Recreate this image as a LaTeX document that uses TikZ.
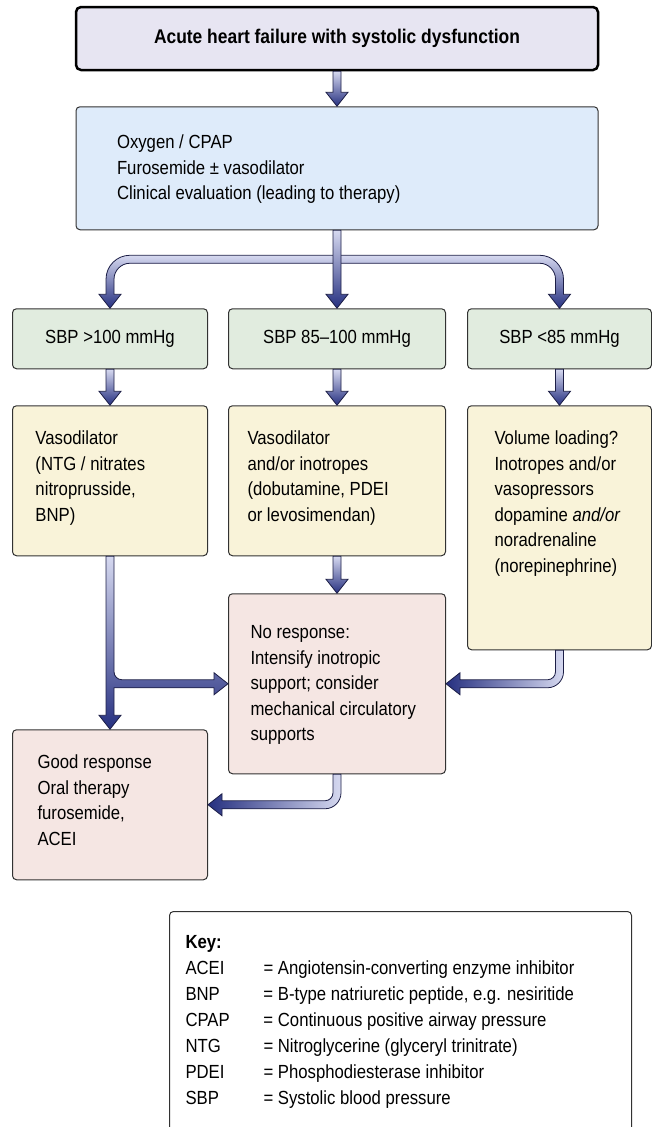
\documentclass[tikz,border=0pt]{standalone}
\usepackage{fontspec}
\setmainfont{Liberation Sans}[FakeStretch=0.88]
\usepackage{tikz}
\usetikzlibrary{positioning, calc}
\definecolor{titlefill}{RGB}{231,229,242}
\definecolor{initfill}{RGB}{222,235,250}
\definecolor{sbpfill}{RGB}{225,236,223}
\definecolor{drugfill}{RGB}{249,243,217}
\definecolor{respfill}{RGB}{245,230,227}
\definecolor{boxline}{RGB}{50,50,50}
\definecolor{arrlight}{RGB}{214,217,240}
\definecolor{arrdark}{RGB}{38,48,128}
\definecolor{arrline}{RGB}{28,30,70}

\newcommand{\bodyfont}{\fontsize{19pt}{25.5pt}\selectfont}
% height, width, left pad, first baseline, text
\newcommand{\boxtext}[5]{\parbox[c][#1][t]{#2}{\raggedright\leftskip=#3\relax\rule{0pt}{#4}#5}}
\newcommand{\keyrow}[2]{\makebox[78pt][l]{#1}= #2}

% fat shaded arrows
\newcommand{\fatdown}[2]{%
  \shade[fatarrow, top color=arrlight, bottom color=arrdark]
    let \p1=#1, \p2=#2 in
    (\x1-4pt,\y1) -- (\x1-4pt,\y2+14pt) -- (\x1-11pt,\y2+14pt) -- (\x1,\y2)
    -- (\x1+11pt,\y2+14pt) -- (\x1+4pt,\y2+14pt) -- (\x1+4pt,\y1) -- cycle;}
\newcommand{\fatdownleft}[2]{%
  \shade[fatarrow, left color=arrdark, right color=arrlight]
    let \p1=#1, \p2=#2 in
    (\x1+4pt,\y1) -- (\x1+4pt,\y2+12pt) arc[start angle=0, end angle=-90, radius=16pt]
    -- (\x2+14pt,\y2-4pt) -- (\x2+14pt,\y2-11pt) -- (\x2,\y2) -- (\x2+14pt,\y2+11pt)
    -- (\x2+14pt,\y2+4pt) -- (\x1-12pt,\y2+4pt) arc[start angle=-90, end angle=0, radius=8pt]
    -- (\x1-4pt,\y1) -- cycle;}
\newcommand{\fatsplit}[3]{%
  \shade[fatarrow, top color=arrlight, bottom color=arrdark]
    let \p1=#1, \p2=#2, \p3=#3 in
    (\x1-4pt,\y1) -- (\x1-4pt,\y3+14pt) -- (\x1-11pt,\y3+14pt) -- (\x1,\y3)
    -- (\x1+11pt,\y3+14pt) -- (\x1+4pt,\y3+14pt) -- (\x1+4pt,\y2-4pt)
    -- (\x2-14pt,\y2-4pt) -- (\x2-14pt,\y2-11pt) -- (\x2,\y2) -- (\x2-14pt,\y2+11pt)
    -- (\x2-14pt,\y2+4pt) -- (\x1+12pt,\y2+4pt) arc[start angle=-90, end angle=-180, radius=8pt]
    -- (\x1+4pt,\y1) -- cycle;}
\newcommand{\fatbar}[3]{%
  \shade[fatarrow, top color=arrlight, bottom color=arrdark]
    let \p1=#1, \p2=#2, \p3=#3 in
    (\x1-4pt,\y1+14pt) -- (\x1-11pt,\y1+14pt) -- (\x1,\y1) -- (\x1+11pt,\y1+14pt)
    -- (\x1+4pt,\y1+14pt) -- (\x1+4pt,\y3-20pt) arc[start angle=180, end angle=90, radius=16pt]
    -- (\x2-20pt,\y3-4pt) arc[start angle=90, end angle=0, radius=16pt]
    -- (\x2-4pt,\y2+14pt) -- (\x2-11pt,\y2+14pt) -- (\x2,\y2) -- (\x2+11pt,\y2+14pt)
    -- (\x2+4pt,\y2+14pt) -- (\x2+4pt,\y3-20pt) arc[start angle=0, end angle=90, radius=24pt]
    -- (\x1+20pt,\y3+4pt) arc[start angle=90, end angle=180, radius=24pt] -- cycle;}

\begin{document}
\begin{tikzpicture}[x=1pt, y=1pt,
  every node/.style={font=\bodyfont},
  titlebox/.style={draw=black, line width=2.5pt, rounded corners=5pt, fill=titlefill,
                   minimum width=522pt, minimum height=63pt,
                   font=\fontsize{19.8pt}{24pt}\selectfont\bfseries},
  stepbox/.style={draw=boxline, line width=1pt, rounded corners=4pt, inner sep=0pt},
  sbpbox/.style={stepbox, fill=sbpfill, minimum height=60pt},
  fatarrow/.style={draw=arrline, line width=0.8pt}
]
  \useasboundingbox (0,0) rectangle (652,-1127);

  % Presentation and first steps
  \node[titlebox] (acute) at (337,-38.5) {Acute heart failure with systolic dysfunction};
  \node[stepbox, fill=initfill, below=35pt of acute] (init)
    {\boxtext{123pt}{522pt}{41pt}{42pt}{Oxygen / CPAP\\Furosemide ± vasodilator\\Clinical evaluation (leading to therapy)}};
  \coordinate[below=29pt of init] (split);

  % Blood pressure groups
  \node[sbpbox, minimum width=217pt, below=78pt of init] (sbpmid) {SBP 85–100 mmHg};
  \node[sbpbox, minimum width=195pt, left=20pt of sbpmid] (sbphigh) {SBP >100 mmHg};
  \node[sbpbox, minimum width=184pt, right=21pt of sbpmid] (sbplow) {SBP <85 mmHg};

  % Therapy
  \node[stepbox, fill=drugfill, below=36pt of sbphigh] (vasodil)
    {\boxtext{150pt}{195pt}{23pt}{39pt}{Vasodilator\\(NTG / nitrates\\nitroprusside,\\BNP)}};
  \node[stepbox, fill=drugfill, below=36pt of sbpmid] (inotrope)
    {\boxtext{150pt}{217pt}{19pt}{39pt}{Vasodilator\\and/or inotropes\\(dobutamine, PDEI\\or levosimendan)}};
  \node[stepbox, fill=drugfill, below=36pt of sbplow] (pressor)
    {\boxtext{244pt}{184pt}{27pt}{39pt}{Volume loading?\\Inotropes and/or\\vasopressors\\dopamine \textit{and/or}\\noradrenaline\\(norepinephrine)}};

  % Response
  \node[stepbox, fill=respfill, below=37pt of inotrope] (noresp)
    {\boxtext{180pt}{217pt}{22pt}{45pt}{No response:\\Intensify inotropic\\support; consider\\mechanical circulatory\\supports}};
  \node[stepbox, fill=respfill, below=173pt of vasodil] (goodresp)
    {\boxtext{150pt}{195pt}{25pt}{39pt}{Good response\\Oral therapy\\furosemide,\\ACEI}};

  % Key
  \node[stepbox, anchor=north west, font=\fontsize{19pt}{26pt}\selectfont] (key) at (169,-911)
    {\boxtext{240pt}{462pt}{16pt}{37pt}{\textbf{Key:}\\
      \keyrow{ACEI}{Angiotensin-converting enzyme inhibitor}\\
      \keyrow{BNP}{B-type natriuretic peptide, e.g. nesiritide}\\
      \keyrow{CPAP}{Continuous positive airway pressure}\\
      \keyrow{NTG}{Nitroglycerine (glyceryl trinitrate)}\\
      \keyrow{PDEI}{Phosphodiesterase inhibitor}\\
      \keyrow{SBP}{Systolic blood pressure}}};

  % Connectors
  \fatdown{(acute.south)}{(init.north)}
  \fatbar{(sbphigh.north)}{(sbplow.north)}{(split)}
  \fatdown{(init.south)}{(sbpmid.north)}
  \fatdown{(sbphigh.south)}{(vasodil.north)}
  \fatdown{(sbpmid.south)}{(inotrope.north)}
  \fatdown{(sbplow.south)}{(pressor.north)}
  \fatdown{(inotrope.south)}{(noresp.north)}
  \fatsplit{(vasodil.south)}{(noresp.west)}{(goodresp.north)}
  \fatdownleft{(pressor.south)}{(noresp.east)}
  \fatdownleft{(noresp.south)}{(goodresp.east)}
\end{tikzpicture}
\end{document}
